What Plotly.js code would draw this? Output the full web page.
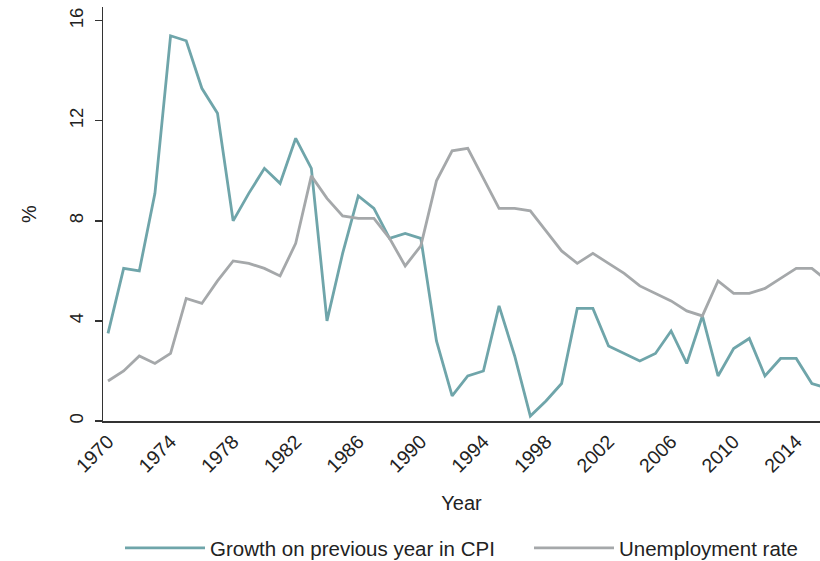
<!DOCTYPE html>
<html>
<head>
<meta charset="utf-8">
<script src="https://cdn.plot.ly/plotly-3.0.1.min.js"></script>
<style>html,body{margin:0;padding:0;background:#fff;}#chart{width:820px;height:561px;}</style>
</head>
<body>
<div id="chart"></div>
<script>
const years = [1970,1971,1972,1973,1974,1975,1976,1977,1978,1979,1980,1981,1982,1983,1984,1985,1986,1987,1988,1989,1990,1991,1992,1993,1994,1995,1996,1997,1998,1999,2000,2001,2002,2003,2004,2005,2006,2007,2008,2009,2010,2011,2012,2013,2014,2015,2016];
const cpiGrowth = [3.5,6.1,6.0,9.1,15.4,15.2,13.3,12.3,8.0,9.1,10.1,9.5,11.3,10.1,4.0,6.7,9.0,8.5,7.3,7.5,7.3,3.2,1.0,1.8,2.0,4.6,2.6,0.2,0.8,1.5,4.5,4.5,3.0,2.7,2.4,2.7,3.6,2.3,4.2,1.8,2.9,3.3,1.8,2.5,2.5,1.5,1.3];
const unemployment = [1.6,2.0,2.6,2.3,2.7,4.9,4.7,5.6,6.4,6.3,6.1,5.8,7.1,9.8,8.9,8.2,8.1,8.1,7.3,6.2,7.0,9.6,10.8,10.9,9.7,8.5,8.5,8.4,7.6,6.8,6.3,6.7,6.3,5.9,5.4,5.1,4.8,4.4,4.2,5.6,5.1,5.1,5.3,5.7,6.1,6.1,5.6];
const xTicks = [1970,1974,1978,1982,1986,1990,1994,1998,2002,2006,2010,2014];
const yTicks = [0,4,8,12,16];
const seriesNames = ["Growth on previous year in CPI","Unemployment rate"];

const font = "Arial, 'Liberation Sans', sans-serif";
const traces = [
  {x: years, y: cpiGrowth, name: seriesNames[0], type: "scatter", mode: "lines",
   legend: "legend", line: {color: "#6fa5aa", width: 2.8}},
  {x: years, y: unemployment, name: seriesNames[1], type: "scatter", mode: "lines",
   legend: "legend2", line: {color: "#a5a8aa", width: 2.8}}
];
const legendCommon = {orientation: "h", xref: "container", yref: "container",
  xanchor: "left", yanchor: "middle", y: 0.023, itemwidth: 80,
  font: {size: 20.5, color: "#222"}, bgcolor: "rgba(0,0,0,0)"};
const layout = {
  width: 820, height: 561,
  margin: {l: 103, r: 0, t: 7, b: 140},
  paper_bgcolor: "#fff", plot_bgcolor: "#fff",
  font: {family: font, color: "#222", size: 18},
  showlegend: true,
  legend: Object.assign({}, legendCommon, {x: 120 / 820}),
  legend2: Object.assign({}, legendCommon, {x: 529 / 820}),
  xaxis: {range: [1969.68, 2015.52], tickvals: xTicks, ticktext: xTicks.map(String),
          tickangle: -45, ticks: "", showgrid: false, zeroline: false, automargin: false,
          showline: true, linecolor: "#333", linewidth: 1.5,
          tickfont: {size: 19.5, color: "#222"},
          title: {text: "Year", font: {size: 20, color: "#222"}, standoff: 20}},
  yaxis: {range: [0, 16.55], tickvals: yTicks, ticktext: yTicks.map(String),
          tickangle: -90, ticks: "outside", ticklen: 7, tickwidth: 1.3, tickcolor: "#333",
          ticklabelstandoff: 4, automargin: false,
          showgrid: false, zeroline: false, showline: true, linecolor: "#333", linewidth: 1.5,
          tickfont: {size: 18.5, color: "#222"},
          title: {text: "%", font: {size: 20, color: "#222"}, standoff: 24}}
};
Plotly.newPlot("chart", traces, layout, {displayModeBar: false, staticPlot: true});
</script>
</body>
</html>
